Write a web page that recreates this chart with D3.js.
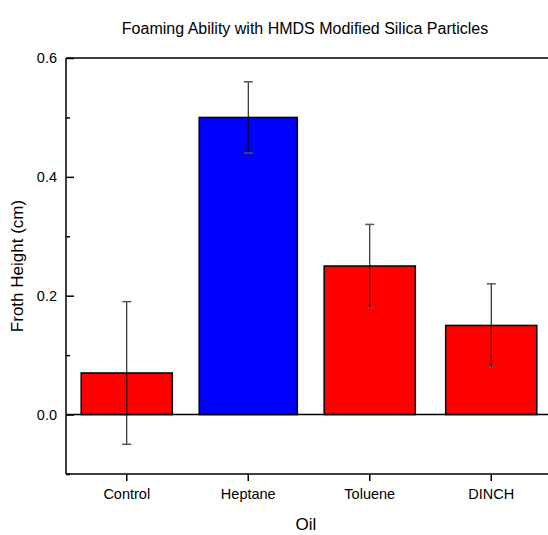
<!DOCTYPE html>
<html>
<head>
<meta charset="utf-8">
<script src="https://cdn.jsdelivr.net/npm/d3@7"></script>
<style>
  body { margin: 0; background: #fff; }
  text { font-family: "Liberation Sans", Arial, sans-serif; fill: #000; }
</style>
</head>
<body>
<svg id="chart" width="548" height="535"></svg>
<script>
// data
const categories = ["Control", "Heptane", "Toluene", "DINCH"];
const frothHeight = [0.07, 0.5, 0.25, 0.15];
const frothError = [0.12, 0.06, 0.07, 0.07];
const barColors = ["#ff0000", "#0000ff", "#ff0000", "#ff0000"];
const yTicks = [0.0, 0.2, 0.4, 0.6];
const yMinorTicks = [-0.1, 0.1, 0.3, 0.5];

const svg = d3.select("#chart");

const margin = { left: 66, top: 58, bottom: 474, right: 552 };

const xScale = d3.scaleBand()
  .domain(categories)
  .range([margin.left, margin.right])
  .paddingInner(0.25)
  .paddingOuter(0.125);

const yScale = d3.scaleLinear()
  .domain([-0.1, 0.6])
  .range([margin.bottom, margin.top]);

const data = categories.map((c, i) => ({
  cat: c, v: frothHeight[i], err: frothError[i], color: barColors[i]
}));

// bars (Heptane drawn a little wider, as in the original)
const barW = d => d.cat === "Heptane" ? xScale.bandwidth() + 7 : xScale.bandwidth();
svg.append("g")
  .selectAll("rect")
  .data(data)
  .join("rect")
    .attr("x", d => xScale(d.cat) + xScale.bandwidth() / 2 - barW(d) / 2)
    .attr("y", d => yScale(d.v))
    .attr("width", barW)
    .attr("height", d => yScale(0) - yScale(d.v))
    .attr("fill", d => d.color)
    .attr("stroke", "#000")
    .attr("stroke-width", 1.5);

// zero line
svg.append("line")
  .attr("x1", margin.left).attr("x2", margin.right)
  .attr("y1", yScale(0)).attr("y2", yScale(0))
  .attr("stroke", "#000").attr("stroke-width", 1.5);

// error bars
const eb = svg.append("g");
data.forEach(d => {
  const cx = xScale(d.cat) + xScale.bandwidth() / 2;
  eb.append("line")
    .attr("x1", cx).attr("x2", cx)
    .attr("y1", yScale(d.v - d.err)).attr("y2", yScale(d.v + d.err))
    .attr("stroke", "#000").attr("stroke-width", 1);
  [d.v - d.err, d.v + d.err].forEach(y => {
    eb.append("line")
      .attr("x1", cx - 4.5).attr("x2", cx + 4.5)
      .attr("y1", yScale(y)).attr("y2", yScale(y))
      .attr("stroke", "#555").attr("stroke-width", 1.5);
  });
});

// frame: left, top, bottom
const frame = svg.append("g").attr("stroke", "#000").attr("stroke-width", 1.5);
frame.append("line")
  .attr("x1", margin.left).attr("x2", margin.left)
  .attr("y1", margin.top).attr("y2", margin.bottom);
frame.append("line")
  .attr("x1", margin.left).attr("x2", margin.right)
  .attr("y1", margin.top).attr("y2", margin.top);
frame.append("line")
  .attr("x1", margin.left).attr("x2", margin.right)
  .attr("y1", margin.bottom).attr("y2", margin.bottom);

// y axis ticks (inward)
const leftAxis = d3.axisRight(yScale)
  .tickValues(yTicks)
  .tickSize(8)
  .tickFormat("");
svg.append("g")
  .attr("class", "axis-y")
  .attr("transform", `translate(${margin.left},0)`)
  .call(leftAxis)
  .call(g => g.select(".domain").remove())
  .call(g => g.selectAll("line").attr("stroke-width", 1.5));

svg.append("g")
  .attr("transform", `translate(${margin.left},0)`)
  .call(d3.axisRight(yScale).tickValues(yMinorTicks).tickSize(4).tickFormat(""))
  .call(g => g.select(".domain").remove())
  .call(g => g.selectAll("line").attr("stroke-width", 1.5));

svg.append("g")
  .selectAll("text")
  .data(yTicks)
  .join("text")
    .attr("x", 57)
    .attr("y", d => yScale(d))
    .attr("dy", "0.35em")
    .attr("text-anchor", "end")
    .style("font-size", "14.5px")
    .text(d3.format(".1f"));

// x axis (outward ticks)
const bottomAxis = d3.axisBottom(xScale).tickSize(7).tickPadding(8);
svg.append("g")
  .attr("class", "axis-x")
  .attr("transform", `translate(0,${margin.bottom})`)
  .call(bottomAxis)
  .call(g => g.select(".domain").remove())
  .call(g => g.selectAll("line").attr("stroke-width", 1.5))
  .call(g => g.selectAll("text")
    .style("font-size", "14.5px")
    .style("font-family", "'Liberation Sans', Arial, sans-serif"));

// titles
svg.append("text")
  .attr("x", 305).attr("y", 34)
  .attr("text-anchor", "middle")
  .style("font-size", "16px")
  .text("Foaming Ability with HMDS Modified Silica Particles");

svg.append("text")
  .attr("transform", "translate(23,266) rotate(-90)")
  .attr("text-anchor", "middle")
  .style("font-size", "17px")
  .text("Froth Height (cm)");

svg.append("text")
  .attr("x", 306).attr("y", 530)
  .attr("text-anchor", "middle")
  .style("font-size", "17px")
  .text("Oil");
</script>
</body>
</html>
